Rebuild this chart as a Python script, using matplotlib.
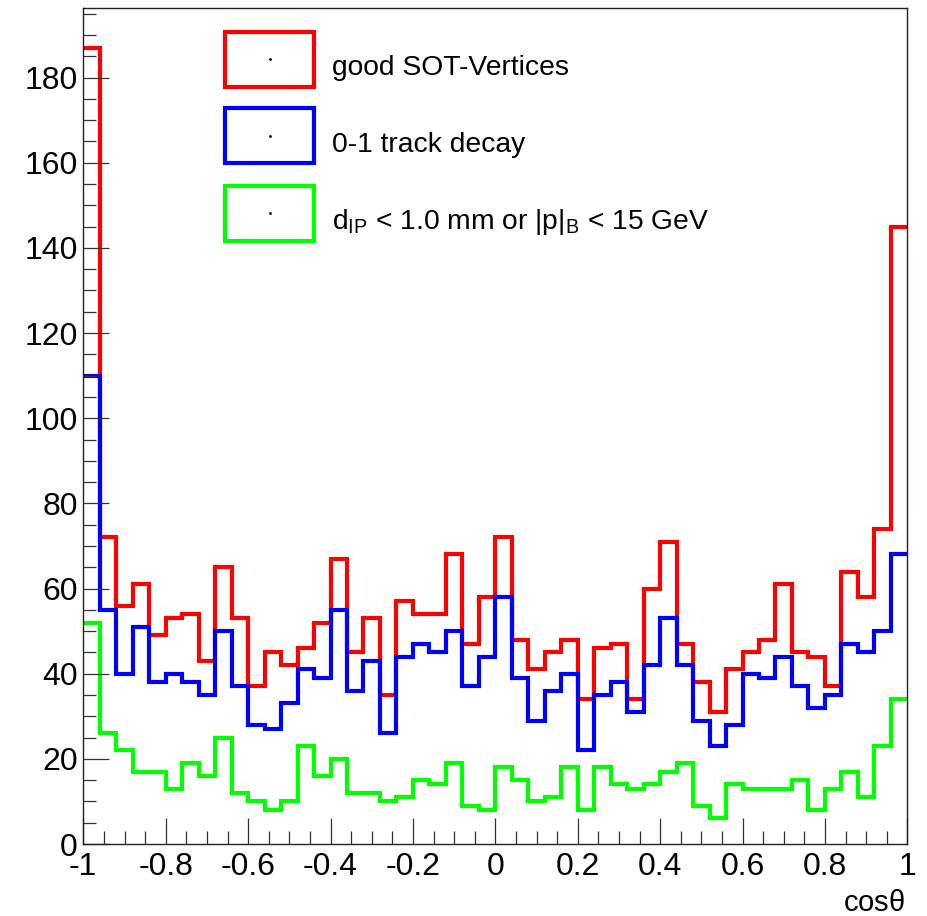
import numpy as np
import matplotlib
matplotlib.use("Agg")
import matplotlib.pyplot as plt
from matplotlib.patches import Rectangle
from matplotlib.lines import Line2D
from matplotlib.ticker import MultipleLocator, FuncFormatter

plt.rcParams['font.family'] = ['Liberation Sans', 'DejaVu Sans']
plt.rcParams['mathtext.default'] = 'regular'

# 50 bins of cos(theta) from -1 to 1
bin_edges = np.linspace(-1.0, 1.0, 51)

good_sot_vertices = [187, 72, 56, 61, 49, 53, 54, 43, 65, 53,
                     37, 45, 42, 46, 52, 67, 45, 53, 35, 57,
                     54, 54, 68, 47, 58, 72, 48, 41, 45, 48,
                     34, 46, 47, 34, 60, 71, 47, 38, 31, 41,
                     45, 48, 61, 45, 44, 37, 64, 58, 74, 145]

track_decay_01 = [110, 55, 40, 51, 38, 40, 38, 35, 50, 37,
                  28, 27, 33, 41, 39, 55, 36, 43, 26, 44,
                  47, 45, 50, 37, 44, 58, 39, 29, 36, 40,
                  22, 35, 38, 31, 42, 53, 42, 29, 23, 28,
                  40, 39, 44, 37, 32, 35, 47, 45, 50, 68]

dip_or_pb_cut = [52, 26, 22, 17, 17, 13, 19, 16, 25, 12,
                 10, 8, 10, 23, 16, 20, 12, 12, 10, 11,
                 15, 14, 19, 9, 8, 18, 15, 10, 11, 18,
                 8, 18, 14, 13, 14, 17, 19, 9, 6, 14,
                 13, 13, 13, 15, 8, 13, 17, 11, 23, 34]

series = [good_sot_vertices, track_decay_01, dip_or_pb_cut]
labels = ["good SOT-Vertices", "0-1 track decay",
          r"d$_{IP}$ < 1.0 mm or |p|$_{B}$ < 15 GeV"]
colors = ["#ff0000", "#0000ff", "#00ff00"]

W, H = 927, 916
fig = plt.figure(figsize=(W / 100, H / 100), dpi=100)
ax = fig.add_axes([83.3 / W, 1 - 844 / H, (907.3 - 83.3) / W, (844 - 8) / H])

for vals, col in zip(series, colors):
    ax.stairs(vals, bin_edges, color=col, linewidth=3.0, baseline=None)

ax.set_xlim(-1, 1)
ax.set_ylim(0, max(good_sot_vertices) * 1.05)

ax.xaxis.set_major_locator(MultipleLocator(0.2))
ax.xaxis.set_minor_locator(MultipleLocator(0.05))
ax.yaxis.set_major_locator(MultipleLocator(20))
ax.yaxis.set_minor_locator(MultipleLocator(5))
ax.xaxis.set_major_formatter(FuncFormatter(lambda v, p: "%g" % round(v, 6) if abs(v) > 1e-9 else "0"))

ax.tick_params(axis='both', which='both', direction='in', top=False, right=False,
               width=0.9, color='#333333')
ax.tick_params(axis='both', which='major', length=18.5, labelsize=23)
ax.tick_params(axis='both', which='minor', length=9.5)
ax.tick_params(axis='x', which='major', pad=6)
ax.tick_params(axis='y', which='major', pad=4)
for s in ax.spines.values():
    s.set_linewidth(1.0)
    s.set_color('#222222')
    s.set_zorder(5)

fig.text(905 / W, 1 - 903 / H, r"cos$\theta$", ha='right', va='center', fontsize=21)

# legend (ROOT style boxes)
box_left, box_right = 225, 314
box_tops = [31.7, 108, 185.7]
box_h = 55
for top, col, lab in zip(box_tops, colors, labels):
    r = Rectangle((box_left / W, 1 - (top + box_h) / H), (box_right - box_left) / W, box_h / H,
                  transform=fig.transFigure, facecolor='white', edgecolor=col, linewidth=3.0)
    fig.add_artist(r)
    cy = top + box_h / 2
    fig.add_artist(Line2D([(box_left + box_right) / 2 / W], [1 - cy / H], marker='o',
                          markersize=1.0, color='black', transform=fig.transFigure))
    fig.text(331.7 / W, 1 - (cy + 16) / H, lab, ha='left', va='baseline', fontsize=20.3)

fig.savefig("out.png", dpi=100)
